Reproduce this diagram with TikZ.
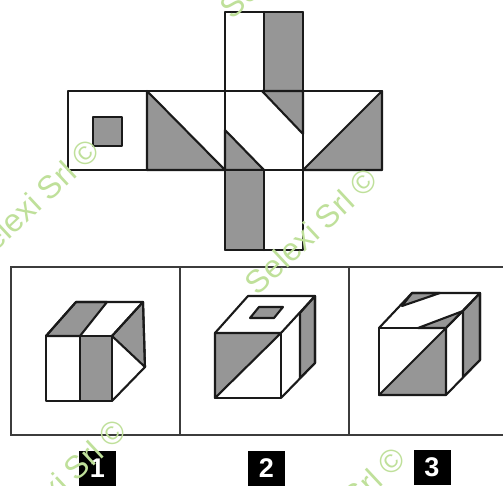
\documentclass[tikz,border=0pt]{standalone}
\usepackage{fontspec}
\setmainfont{Liberation Sans}
\definecolor{fillgray}{HTML}{969696}
\definecolor{inkline}{HTML}{1A1A1A}
\definecolor{markgreen}{HTML}{BFE09A}
\tikzset{
  lineedge/.style={draw=inkline,line width=2.1pt,line join=round,line cap=round},
  frameline/.style={draw=inkline!85!white,line width=2.2pt},
  grayface/.style={fill=fillgray,lineedge},
  tagbox/.style={fill=black,text=white,minimum width=37pt,minimum height=35pt,inner sep=0pt,font=\bfseries\fontsize{27}{27}\selectfont},
  wmark/.style={text=markgreen,font=\fontsize{32}{32}\selectfont,rotate=43,inner sep=0pt}
}
\begin{document}
\begin{tikzpicture}[x=1pt,y=-1pt]
\useasboundingbox (0,0) rectangle (503,486);
\clip (0,0) rectangle (503,486);
\fill[white] (0,0) rectangle (503,486);
% net: fills
\filldraw[grayface] (264,12) rectangle (303,91);
\filldraw[grayface] (262,91) -- (303,91) -- (303,134) -- cycle;
\filldraw[grayface] (225,130) -- (264,170) -- (225,170) -- cycle;
\filldraw[grayface] (147,91) -- (225,170) -- (147,170) -- cycle;
\filldraw[grayface] (382,91) -- (303,170) -- (382,170) -- cycle;
\filldraw[grayface] (225,170) rectangle (264,250);
\filldraw[grayface] (93,117) rectangle (122,146);
% net: outlines
\draw[lineedge] (68,91) rectangle (382,170);
\draw[lineedge] (225,12) rectangle (303,250);
\draw[lineedge] (264,12) -- (264,91);
\draw[lineedge] (264,170) -- (264,250);
\draw[lineedge] (147,91) -- (147,170);
% frames
\draw[frameline] (503,267) -- (11,267) -- (11,435) -- (503,435);
\draw[frameline] (180,267) -- (180,435);
\draw[frameline] (349,267) -- (349,435);
% cube 1
\filldraw[grayface] (76,302) -- (107,302) -- (80,336) -- (46,336) -- cycle;
\filldraw[grayface] (80,336) rectangle (112,401);
\filldraw[grayface] (112,336) -- (143,302) -- (145,367) -- cycle;
\draw[lineedge] (46,336) rectangle (112,401);
\draw[lineedge] (46,336) -- (76,302) -- (143,302) -- (112,336);
\draw[lineedge] (143,302) -- (145,367) -- (112,401);
% cube 2
\filldraw[grayface] (215,333) -- (281,333) -- (215,398) -- cycle;
\filldraw[grayface] (300,313) -- (315,296) -- (315,363) -- (300,378) -- cycle;
\filldraw[grayface] (250,318) -- (274,318) -- (283,307) -- (259,307) -- cycle;
\draw[lineedge] (215,333) rectangle (281,398);
\draw[lineedge] (215,333) -- (248,296) -- (315,296) -- (281,333);
\draw[lineedge] (315,296) -- (315,363) -- (281,398);
% cube 3
\filldraw[grayface] (446,328) -- (446,395) -- (379,395) -- cycle;
\filldraw[grayface] (412,293) -- (440,293) -- (402,306) -- cycle;
\filldraw[grayface] (418,328) -- (463,311) -- (446,328) -- cycle;
\filldraw[grayface] (463,311) -- (480,293) -- (480,360) -- (463,377) -- cycle;
\draw[lineedge] (379,328) rectangle (446,395);
\draw[lineedge] (379,328) -- (412,293) -- (480,293) -- (446,328);
\draw[lineedge] (480,293) -- (480,360) -- (446,395);
% tags
\node[tagbox] (tagone) at (97.5,468.5) {1};
\node[tagbox] (tagtwo) at (266.5,468) {2};
\node[tagbox] (tagthree) at (432,467.5) {3};
% watermarks
\node[wmark] (wmtop) at (286,-45) {Selexi Srl ©};
\node[wmark] (wmleft) at (33,202) {Selexi Srl ©};
\node[wmark] (wmcentre) at (311,231) {Selexi Srl ©};
\node[wmark] (wmlow) at (60,482) {Selexi Srl ©};
\node[wmark] (wmlowmid) at (339,510) {Selexi Srl ©};
\end{tikzpicture}
\end{document}
